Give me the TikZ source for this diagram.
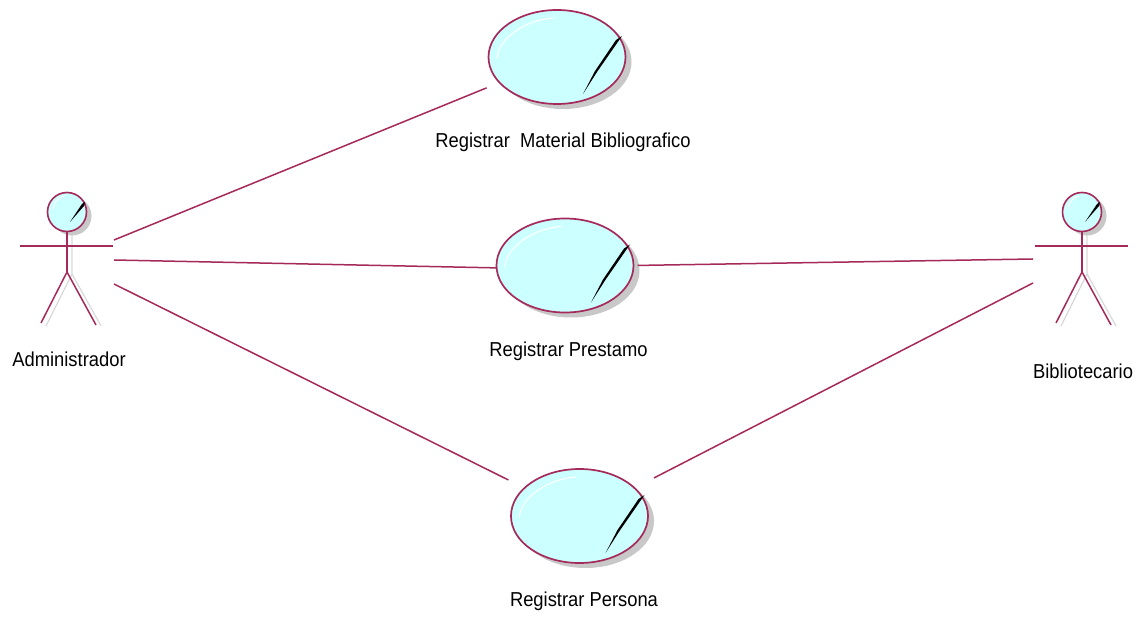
\documentclass[tikz,border=0pt]{standalone}
\usepackage{fontspec}
\setmainfont{Liberation Sans}
\usetikzlibrary{shapes.geometric}
\definecolor{rose}{HTML}{A52A5A}
\definecolor{aqua}{HTML}{CCFFFF}
\definecolor{shade}{HTML}{C8C8C8}
\tikzset{
  ucase/.style={ellipse,draw=rose,fill=aqua,line width=1.7pt,minimum width=137pt,minimum height=94pt,inner sep=0pt,outer sep=0pt},
  ushadow/.style={ellipse,fill=shade,minimum width=137pt,minimum height=94pt,inner sep=0pt,outer sep=0pt},
  headnode/.style={circle,draw=rose,fill=aqua,line width=1.6pt,minimum size=39pt,inner sep=0pt,outer sep=0pt},
  headshadow/.style={circle,fill=shade,minimum size=39pt,inner sep=0pt,outer sep=0pt},
  assoc/.style={draw=rose,line width=1.5pt},
  limb/.style={draw=rose,line width=1.5pt},
  limbshadow/.style={draw=shade!70,line width=1.2pt},
  lbl/.style={font=\fontsize{18}{21}\selectfont,text=black,inner sep=0pt,xscale=1.02,yscale=1.12},
  glint/.style={draw=white,line width=1.1pt,line cap=round}
}
\newcommand{\usecasemark}[3]{%
  \node[ushadow] at (#2+6,#3+5) {};
  \node[ucase] (#1) at (#2,#3) {};
  \draw[glint] (#2-60,#3+1) .. controls (#2-59,#3-18) and (#2-32,#3-37) .. (#2-4,#3-39);
  \fill[black] (#2+65,#3-21) -- (#2+59,#3-17) -- (#2+38,#3+14) -- (#2+26,#3+37) -- (#2+40,#3+15) -- cycle;
}
\newcommand{\actormark}[3]{%
  \draw[limbshadow] (#2+5,#3+20) -- (#2+5,#3+62) -- (#2-21,#3+114);
  \draw[limbshadow] (#2+5,#3+62) -- (#2+34,#3+114);
  \node[headshadow] at (#2+5,#3+4) {};
  \node[headnode] (#1) at (#2,#3) {};
  \draw[limb] (#1.south) -- (#2,#3+60);
  \draw[limb] (#2-47,#3+34) -- (#2+46,#3+34);
  \draw[limb] (#2,#3+60) -- (#2-26,#3+111);
  \draw[limb] (#2,#3+60) -- (#2+29,#3+113);
  \draw[glint,line width=0.9pt] (#2-14,#3-3) .. controls (#2-13,#3-10) and (#2-9,#3-14) .. (#2-4,#3-16);
  \fill[black] (#2+18,#3-10) -- (#2+15,#3-8) -- (#2+3,#3+10) -- (#2+17,#3-6) -- cycle;
}
\begin{document}
\begin{tikzpicture}[x=1pt,y=-1pt]
\useasboundingbox (0,0) rectangle (1145,617);
\fill[white] (0,0) rectangle (1145,617);
\usecasemark{ua}{557}{57}
\usecasemark{ub}{565}{265.5}
\usecasemark{uc}{579.5}{516}
\actormark{admin}{67}{212}
\actormark{bib}{1082}{212}
\coordinate (adminT) at (114,240);
\coordinate (adminM) at (114,260);
\coordinate (adminB) at (114,284);
\coordinate (bibM) at (1033,259);
\coordinate (bibB) at (1033,283);
\draw[assoc,shorten >=14pt] (adminT) -- (ua.204);
\draw[assoc] (adminM) -- (ub.182);
\draw[assoc,shorten >=18pt] (adminB) -- (uc.153);
\draw[assoc,shorten <=4pt] (ub.0) -- (bibM);
\draw[assoc,shorten <=22pt] (uc.27) -- (bibB);
\node[lbl] (la) at (563,142.5) {Registrar\ \ Material Bibliografico};
\node[lbl] (lb) at (568.5,351.5) {Registrar Prestamo};
\node[lbl] (lc) at (584,601.5) {Registrar Persona};
\node[lbl] (ld) at (69,359) {Administrador};
\node[lbl] (le) at (1083,371) {Bibliotecario};
\end{tikzpicture}
\end{document}
